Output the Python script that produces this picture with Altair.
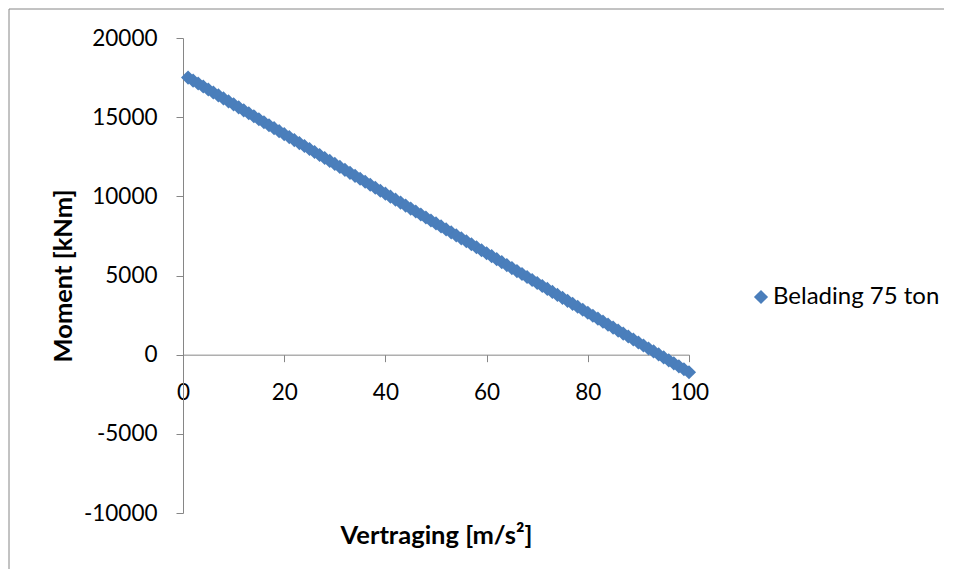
import altair as alt
import pandas as pd

series_name = "Belading 75 ton"
vertraging = [1, 2, 3, 4, 5, 6, 7, 8, 9, 10, 11, 12, 13, 14, 15, 16, 17, 18, 19, 20,
              21, 22, 23, 24, 25, 26, 27, 28, 29, 30, 31, 32, 33, 34, 35, 36, 37, 38, 39, 40,
              41, 42, 43, 44, 45, 46, 47, 48, 49, 50, 51, 52, 53, 54, 55, 56, 57, 58, 59, 60,
              61, 62, 63, 64, 65, 66, 67, 68, 69, 70, 71, 72, 73, 74, 75, 76, 77, 78, 79, 80,
              81, 82, 83, 84, 85, 86, 87, 88, 89, 90, 91, 92, 93, 94, 95, 96, 97, 98, 99, 100]
moment = [17500, 17312, 17124, 16936, 16748, 16560, 16372, 16184, 15996, 15808,
          15620, 15432, 15244, 15056, 14868, 14680, 14492, 14304, 14116, 13928,
          13740, 13552, 13364, 13176, 12988, 12800, 12612, 12424, 12236, 12048,
          11860, 11672, 11484, 11296, 11108, 10920, 10732, 10544, 10356, 10168,
          9980, 9792, 9604, 9416, 9228, 9040, 8852, 8664, 8476, 8288,
          8100, 7912, 7724, 7536, 7348, 7160, 6972, 6784, 6596, 6408,
          6220, 6032, 5844, 5656, 5468, 5280, 5092, 4904, 4716, 4528,
          4340, 4152, 3964, 3776, 3588, 3400, 3212, 3024, 2836, 2648,
          2460, 2272, 2084, 1896, 1708, 1520, 1332, 1144, 956, 768,
          580, 392, 204, 16, -172, -360, -548, -736, -924, -1112]
x_ticks = [0, 20, 40, 60, 80, 100]
y_ticks = [-10000, -5000, 0, 5000, 10000, 15000, 20000]

df = pd.DataFrame({"Vertraging": vertraging, "Moment": moment, "Reeks": series_name})

W, H = 506, 475
FONT = "Lato"
GRAY = "#868686"
BLUE = "#4a7ebb"

points = alt.Chart(df).mark_point(filled=True, shape="diamond", size=200, opacity=1).encode(
    x=alt.X("Vertraging:Q",
            scale=alt.Scale(domain=[0, 100], nice=False, zero=False),
            axis=alt.Axis(values=x_ticks, labelExpr="'' + datum.value", grid=False, offset=-158.33,
                          tickSize=7, labelPadding=20, labelFlush=False, labelOverlap=False,
                          title="Vertraging [m/s²]", titleX=253, titleY=189,
                          titleBaseline="alphabetic", titleAlign="center")),
    y=alt.Y("Moment:Q",
            scale=alt.Scale(domain=[-10000, 20000], nice=False, zero=False),
            axis=alt.Axis(values=y_ticks, labelExpr="'' + datum.value", grid=False,
                          tickSize=7, labelPadding=19, labelFlush=False, labelOverlap=False,
                          title="Moment [kNm]", titleX=-112, titleY=237.5, titleAngle=270,
                          titleBaseline="alphabetic", titleAlign="center")),
    color=alt.Color("Reeks:N", scale=alt.Scale(range=[BLUE]),
                    legend=alt.Legend(title=None, orient="none", legendX=566, legendY=247,
                                      symbolType="diamond", symbolSize=200,
                                      symbolStrokeWidth=0, labelOffset=0, padding=0,
                                      labelLimit=400,
                                      labelFont=FONT, labelFontSize=24, labelColor="black")),
)

border_top = alt.Chart(alt.Data(values=[{}])).mark_rule(color=GRAY, strokeWidth=1).encode(
    x=alt.value(-174), x2=alt.value(W + 255), y=alt.value(-29))
border_left = alt.Chart(alt.Data(values=[{}])).mark_rule(color=GRAY, strokeWidth=1).encode(
    x=alt.value(-174), y=alt.value(-29), y2=alt.value(H + 56))

chart = alt.layer(border_top, border_left, points).properties(
    width=W, height=H,
    padding={"left": 175, "top": 30, "right": 255, "bottom": 56},
    autosize=alt.AutoSizeParams(type="none"),
).configure_view(strokeWidth=0).configure_axis(
    domainColor=GRAY, tickColor=GRAY, domainWidth=1, tickWidth=1,
    labelFont=FONT, labelFontSize=22.5, labelColor="black",
    titleFont=FONT, titleFontSize=25.5, titleFontWeight="bold", titleColor="black",
).configure_legend(symbolOpacity=1)

chart.save("out.html", embed_options={"renderer": "svg", "actions": False})
